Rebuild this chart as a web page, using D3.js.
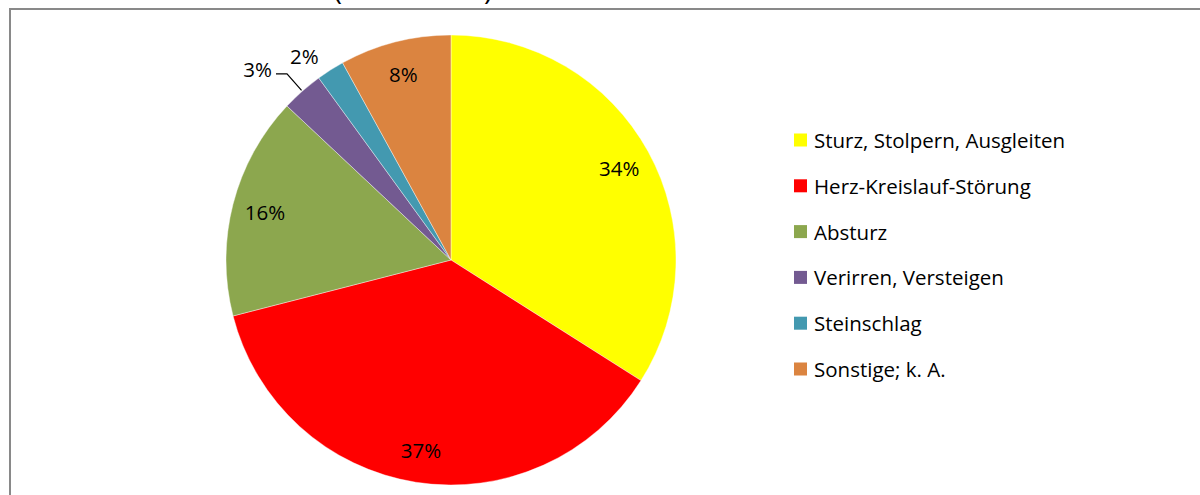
<!DOCTYPE html>
<html>
<head>
<meta charset="utf-8">
<script src="https://cdn.jsdelivr.net/npm/d3@7"></script>
<style>
  html, body { margin: 0; padding: 0; background: #fff; }
  svg { display: block; }
</style>
</head>
<body>
<svg id="chart" width="1200" height="495"></svg>
<script>
// Causes and their shares (percent)
const categories = [
  "Sturz, Stolpern, Ausgleiten",
  "Herz-Kreislauf-Störung",
  "Absturz",
  "Verirren, Versteigen",
  "Steinschlag",
  "Sonstige; k. A."
];
const shares = [34, 37, 16, 3, 2, 8];
const colors = ["#FFFF00", "#FF0000", "#8CA74E", "#735A91", "#4399B0", "#DB8440"];
const titleText = "Ursachen der Todesfälle (2008–2012)";

const FONT = "'Open Sans', 'Noto Sans', sans-serif";
const svg = d3.select("#chart");

// Title (mostly above the visible area) and chart frame
svg.append("text")
  .attr("x", 10).attr("y", 0)
  .attr("font-family", FONT).attr("font-size", 28)
  .attr("fill", "#000")
  .text(titleText);

svg.append("rect")
  .attr("x", 10).attr("y", 9)
  .attr("width", 1300).attr("height", 600)
  .attr("fill", "#fff")
  .attr("stroke", "#898989").attr("stroke-width", 2);

// Pie
const cx = 451, cy = 260, radius = 225;
const data = categories.map((c, i) => ({ name: c, value: shares[i], color: colors[i] }));
const pie = d3.pie().value(d => d.value).sort(null);
const arcs = pie(data);
const arc = d3.arc().innerRadius(0).outerRadius(radius);

const g = svg.append("g").attr("transform", `translate(${cx},${cy})`);
g.selectAll("path.slice")
  .data(arcs)
  .join("path")
  .attr("class", "slice")
  .attr("d", arc)
  .attr("fill", d => d.data.color)
  .attr("stroke", "#fff")
  .attr("stroke-width", 0.4);

// Labels: inside for large slices, outside for the two small ones
const insideArc = d3.arc().innerRadius(192).outerRadius(192);
const pt = (angle, r) => [Math.sin(angle) * r, -Math.cos(angle) * r];
const mid = d => (d.startAngle + d.endAngle) / 2;
const fmt = d => d.data.value + "%";
const LABEL_SIZE = 20.5;

arcs.forEach(d => {
  if (d.data.value >= 5) {
    const [x, y] = insideArc.centroid(d);
    g.append("text")
      .attr("x", x).attr("y", y)
      .attr("text-anchor", "middle").attr("dominant-baseline", "central")
      .attr("font-family", FONT).attr("font-size", LABEL_SIZE)
      .text(fmt(d));
  } else if (d.data.name === "Steinschlag") {
    const [x, y] = pt(mid(d), radius + 22);
    g.append("text")
      .attr("x", x).attr("y", y + 5)
      .attr("text-anchor", "end").attr("dominant-baseline", "central")
      .attr("font-family", FONT).attr("font-size", LABEL_SIZE)
      .text(fmt(d));
  } else {
    // leader line from the slice edge to a label placed up and to the left
    const a = mid(d);
    const p0 = pt(a, radius + 1);
    const p1 = pt(a, radius + 23);
    const p2 = [p1[0] - 11, p1[1]];
    g.append("polyline")
      .attr("points", [p0, p1, p2].map(p => p.join(",")).join(" "))
      .attr("fill", "none").attr("stroke", "#000").attr("stroke-width", 1.2);
    g.append("text")
      .attr("x", p2[0] - 4).attr("y", p2[1] - 5)
      .attr("text-anchor", "end").attr("dominant-baseline", "central")
      .attr("font-family", FONT).attr("font-size", LABEL_SIZE)
      .text(fmt(d));
  }
});

// Legend
const legendY = d3.scalePoint().domain(categories).range([140, 369]);
const legend = svg.append("g");
const rows = legend.selectAll("g.row").data(data).join("g")
  .attr("class", "row")
  .attr("transform", d => `translate(794,${legendY(d.name)})`);
rows.append("rect")
  .attr("x", 0).attr("y", -6.5)
  .attr("width", 13).attr("height", 13)
  .attr("fill", d => d.color);
rows.append("text")
  .attr("x", 20).attr("y", 0)
  .attr("dominant-baseline", "central")
  .attr("font-family", FONT).attr("font-size", 20.5)
  .text(d => d.name);
</script>
</body>
</html>
